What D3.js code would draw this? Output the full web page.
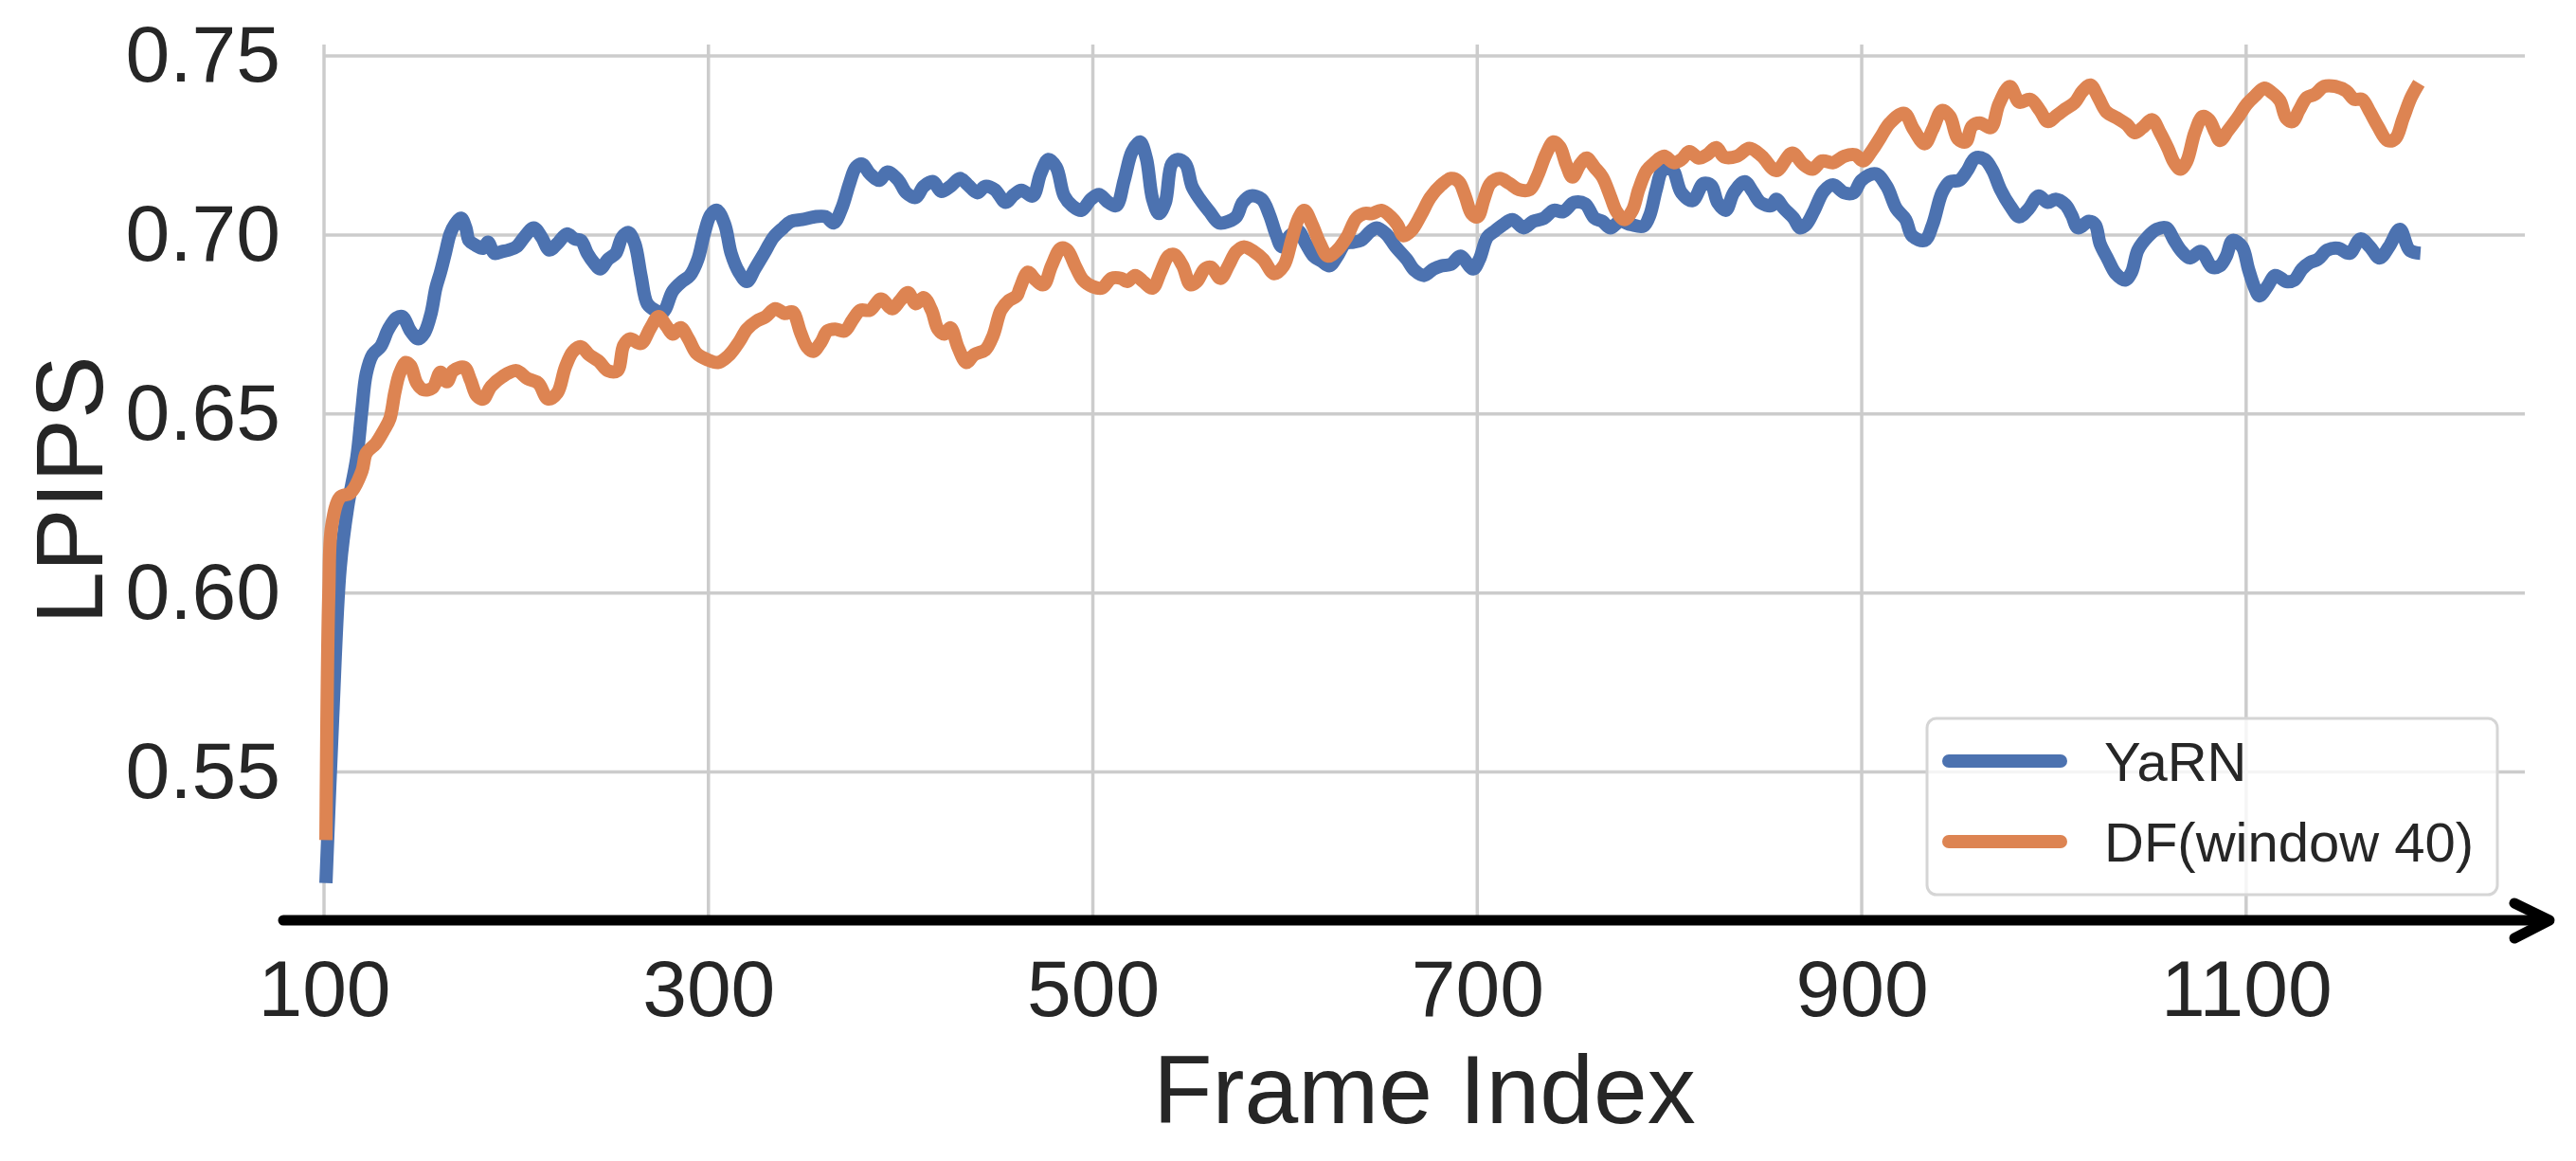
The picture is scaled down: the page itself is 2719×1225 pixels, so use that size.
<!DOCTYPE html>
<html>
<head>
<meta charset="utf-8">
<script src="https://cdn.jsdelivr.net/npm/d3@7"></script>
<style>
  html, body { margin: 0; padding: 0; background: #ffffff; }
  svg { display: block; }
  text { font-family: "Liberation Sans", Arial, "DejaVu Sans", sans-serif; fill: #262626; }
</style>
</head>
<body>
<svg id="chart" width="2719" height="1225"></svg>
<script>
// ---------------- data ----------------
const seriesNames = ["YaRN", "DF(window 40)"];
const seriesColors = ["#4C72B0", "#DD8452"];
const xTicks = [100, 300, 500, 700, 900, 1100];
const yTicks = [0.55, 0.60, 0.65, 0.70, 0.75];
const xLabel = "Frame Index";
const yLabel = "LPIPS";

const yarnFrames = [101,104.5,108.4,112.3,117.1,119.6,122,125.3,129.4,133.5,137.6,140.9,145,149.1,152.4,155.7,158.2,160.6,163.1,165.6,168,171.3,173.8,175.4,178.7,182.8,185.3,188.6,192.7,196,200.1,204.2,209.1,213.2,217.3,221.4,226.3,230.4,233.7,237,240.3,243.6,247.7,251.8,255.1,258.4,261.7,264.9,268.2,272.3,276.4,281.4,286.3,290.4,294.5,297.8,301.1,304.4,308.5,311.8,315.9,320,324.1,329,333.9,338.9,343,348.7,355.3,361,365.2,369.3,373.4,376.7,380,384,389,393.1,398.8,402.9,407.9,412,416.9,421,425.9,430.9,435,439.9,444,448.9,454.7,458.8,462.9,468.7,472.8,476.9,481,485.1,489.2,494.1,499,503.2,508.1,512.2,516.3,520.4,524.5,527.8,531.1,534.4,537.7,541,544.2,548.3,551.6,555.7,560.7,565.6,570.5,574.6,578,582,587.8,591.9,595.2,598.4,602.5,606.7,610.8,614.9,619,623.1,627.2,631.3,635.4,639.5,644.4,647.7,652.6,657.5,663.3,667.4,672.3,677.2,681.4,686.3,691.2,697.8,701.1,705.2,709.3,713.4,718.3,724.1,729,734.7,739.7,744.6,750.4,756.1,761,765.1,769.2,774.2,779.9,786.5,789.8,793.1,796.4,801.3,806.2,812,817.7,821.8,825.1,829.3,833.4,839.1,843.2,847.3,853.1,855.5,859.6,864.6,867.9,871.1,875.3,880.2,885.1,890.9,895.8,899.9,907.3,913,918,922.9,926.2,932.8,936.9,941.8,945.9,950.8,954.9,959,964,968.1,972.2,977.1,982,987,991.9,996.8,1000.9,1005.9,1009.2,1012.5,1018.2,1021.5,1024,1028.1,1032.2,1037.1,1040.4,1043.7,1048.6,1053.5,1058.5,1062.6,1065.9,1070.8,1076.5,1082.3,1086.4,1089.7,1093,1097.9,1101.2,1104.5,1106.9,1111,1115.2,1120.9,1125,1129.1,1133.2,1137.3,1142.3,1148,1153.8,1159.5,1164.4,1169.4,1174.3,1180,1185,1190.7];
const yarnValues = [0.519,0.565,0.607,0.624,0.638,0.6506,0.6613,0.6666,0.6688,0.6737,0.6768,0.6772,0.6732,0.6710,0.6728,0.6781,0.6852,0.6896,0.6949,0.7003,0.7029,0.7047,0.7020,0.6985,0.6972,0.6963,0.6980,0.6949,0.6954,0.6958,0.6967,0.6994,0.7020,0.6994,0.6958,0.6976,0.7003,0.6989,0.6985,0.6949,0.6923,0.6905,0.6932,0.6949,0.6994,0.7007,0.6976,0.6887,0.6808,0.6790,0.6785,0.6843,0.6870,0.6887,0.6932,0.7003,0.7056,0.7069,0.7029,0.6949,0.6896,0.6870,0.6905,0.6949,0.6994,0.7020,0.7038,0.7043,0.7051,0.7051,0.7034,0.7074,0.7144,0.7189,0.7198,0.7171,0.7153,0.7176,0.7153,0.7118,0.7105,0.7136,0.7149,0.7122,0.7136,0.7158,0.7140,0.7118,0.7136,0.7127,0.7091,0.7112,0.7125,0.7109,0.7171,0.7211,0.7189,0.7109,0.7082,0.7069,0.7100,0.7113,0.7091,0.7082,0.7153,0.7233,0.7260,0.7215,0.7100,0.7060,0.7091,0.7198,0.7211,0.7198,0.7136,0.7100,0.7065,0.7034,0.7038,0.7051,0.7091,0.7109,0.7100,0.7056,0.7003,0.6967,0.6998,0.7012,0.6976,0.6941,0.6927,0.6914,0.6941,0.6976,0.6980,0.6985,0.7010,0.7020,0.7003,0.6967,0.6932,0.6901,0.6887,0.6905,0.6914,0.6918,0.6941,0.6905,0.6932,0.6994,0.7012,0.7029,0.7043,0.7020,0.7038,0.7047,0.7069,0.7065,0.7091,0.7087,0.7047,0.7038,0.7020,0.7038,0.7029,0.7025,0.7056,0.7127,0.7180,0.7184,0.7118,0.7096,0.7144,0.7138,0.7090,0.7069,0.7118,0.7149,0.7122,0.7091,0.7082,0.7100,0.7074,0.7047,0.7020,0.7029,0.7069,0.7122,0.7140,0.7118,0.7118,0.7153,0.7171,0.7136,0.7074,0.7043,0.6998,0.6985,0.7029,0.7118,0.7149,0.7153,0.7180,0.7215,0.7211,0.7180,0.7127,0.7082,0.7051,0.7074,0.7109,0.7091,0.7100,0.7085,0.7056,0.7020,0.7038,0.7029,0.6976,0.6932,0.6892,0.6874,0.6896,0.6958,0.6994,0.7016,0.7020,0.6985,0.6958,0.6936,0.6954,0.6910,0.6914,0.6941,0.6985,0.6967,0.6905,0.6852,0.6830,0.6856,0.6887,0.6870,0.6874,0.6905,0.6923,0.6932,0.6958,0.6963,0.6949,0.6989,0.6967,0.6936,0.6967,0.7016,0.6958,0.6949];

const dfFrames = [101,102.5,104,108.4,113.8,119.7,122,127,131,134.3,136.8,139.3,142.6,145,148.3,151.6,156.5,160.6,163.9,167.2,173,176.2,179.5,182.8,186.9,192.7,200.1,205.8,211.5,216.5,221.4,225.5,229.6,233.7,237.8,242.8,247.7,252.6,255.9,259.2,264.9,269.9,274,278.1,281.4,285.5,289.6,293.7,299.4,305.2,311,315.9,320,324.9,329.8,334.8,339.7,343.8,347.9,351.2,354.5,358.6,361.9,366,370.9,375,379.1,384,389.8,395.6,399.7,403.8,407.9,412,416.1,419.4,422.7,425.9,430,434.2,438.3,444,448.1,452.2,456.3,460.4,462.1,466.2,470.3,474.4,478.5,483.4,486.7,490.8,494.9,499.9,504.8,509.7,514.7,517.9,522,526.2,531.1,535.2,539.3,542.6,546.7,550.8,554.1,558.2,561.5,566.4,570.5,574.6,578.7,583.7,588.6,594.3,599.3,603.4,606.7,610,614.1,618.2,622.3,627.2,632.1,637.1,641.2,645.2,650.1,655,658.4,661.6,665.7,670.7,675.6,681.3,686.3,690.4,693.7,697,700.2,703.5,706.8,711.7,716.7,721.6,727.4,731.5,735.6,739.7,743,746.2,749.5,753.6,756.9,761,765.1,769.2,772.5,776.6,780.7,784,788.1,792.2,797.2,802.1,806.2,810.3,815.2,819.4,824.3,828.4,835,841.6,848.1,855.5,863.8,869.5,874.4,879.4,885.1,890.9,896.6,900.7,905.6,909.8,914.7,922.1,927,932.8,936.9,941.8,945.9,950,954.1,957.4,961.5,967.2,971.4,977.1,982,987.8,992.7,996.8,1001.7,1005.9,1010.8,1014.9,1019,1023.1,1027.3,1033,1037.9,1042,1046.1,1051.1,1055.2,1059.3,1062.6,1065.9,1069.2,1073.3,1077.4,1080.7,1084,1086.4,1090.5,1095.4,1100.4,1104.5,1109.4,1113.5,1117.6,1120.9,1124.2,1127.5,1131.6,1135.7,1140.6,1146.4,1152.1,1156.2,1160.3,1164.4,1168.5,1173.5,1177.6,1181.7,1185.8,1189.9];
const dfValues = [0.531,0.600,0.6187,0.6268,0.628,0.634,0.6391,0.6418,0.6453,0.6488,0.6559,0.6613,0.6644,0.6635,0.6586,0.6568,0.6573,0.6617,0.6590,0.6621,0.6630,0.6595,0.6551,0.6542,0.6577,0.6604,0.6621,0.6599,0.6586,0.6542,0.6559,0.6630,0.6675,0.6688,0.6666,0.6648,0.6621,0.6621,0.6692,0.6710,0.6697,0.6741,0.6772,0.6746,0.6723,0.6741,0.6710,0.6670,0.6652,0.6644,0.6666,0.6701,0.6737,0.6759,0.6772,0.6794,0.6781,0.6785,0.6728,0.6688,0.6675,0.6701,0.6732,0.6737,0.6732,0.6763,0.6790,0.6790,0.6821,0.6794,0.6817,0.6839,0.6808,0.6825,0.6790,0.6737,0.6723,0.6741,0.6684,0.6644,0.6666,0.6679,0.6719,0.6790,0.6817,0.6830,0.6852,0.6896,0.6874,0.6861,0.6914,0.6963,0.6958,0.6914,0.6874,0.6856,0.6852,0.6879,0.6879,0.6870,0.6887,0.6870,0.6852,0.6896,0.6941,0.6945,0.6914,0.6861,0.6870,0.6905,0.6910,0.6879,0.6914,0.6954,0.6967,0.6954,0.6932,0.6892,0.6914,0.6985,0.7043,0.7069,0.7029,0.6976,0.6941,0.6958,0.6994,0.7047,0.7060,0.7060,0.7069,0.7051,0.7029,0.6998,0.7012,0.7056,0.7105,0.7140,0.7158,0.7149,0.7109,0.7060,0.7051,0.7100,0.7144,0.7158,0.7144,0.7127,0.7127,0.7167,0.7224,0.7260,0.7246,0.7198,0.7162,0.7198,0.7215,0.7189,0.7162,0.7109,0.7065,0.7043,0.7069,0.7127,0.7180,0.7202,0.7220,0.7202,0.7211,0.7233,0.7215,0.7224,0.7244,0.7218,0.7220,0.7242,0.7220,0.7180,0.7229,0.7198,0.7184,0.7207,0.7202,0.7220,0.7224,0.7207,0.7238,0.7273,0.7313,0.7340,0.7295,0.7255,0.7295,0.7348,0.7331,0.7269,0.7260,0.7304,0.7313,0.7300,0.7366,0.7415,0.7371,0.7379,0.7348,0.7317,0.7335,0.7352,0.7370,0.7402,0.7419,0.7384,0.7344,0.7326,0.7309,0.7286,0.7300,0.7322,0.7286,0.7242,0.7202,0.7184,0.7207,0.7286,0.7331,0.7322,0.7286,0.7264,0.7291,0.7326,0.7366,0.7388,0.7410,0.7397,0.7375,0.7326,0.7317,0.7348,0.7384,0.7393,0.7415,0.7415,0.7402,0.7379,0.7379,0.7344,0.7304,0.7264,0.7269,0.7326,0.7384,0.7424];

// ---------------- layout ----------------
const svg = d3.select("#chart");
const plot = { left: 342, right: 2665, top: 47, bottom: 971 };

const x = d3.scaleLinear().domain([100, 1245]).range([plot.left, plot.right]);
const y = d3.scaleLinear().domain([0.5086, 0.7532]).range([plot.bottom, plot.top]);

const gridColor = "#cccccc";
const grid = svg.append("g");
grid.selectAll("line.h").data(yTicks).join("line")
  .attr("x1", plot.left).attr("x2", plot.right)
  .attr("y1", d => y(d)).attr("y2", d => y(d))
  .attr("stroke", gridColor).attr("stroke-width", 3.5);
grid.selectAll("line.v").data(xTicks).join("line")
  .attr("x1", d => x(d)).attr("x2", d => x(d))
  .attr("y1", plot.top).attr("y2", plot.bottom)
  .attr("stroke", gridColor).attr("stroke-width", 3.5);

// axes (labels only)
const yAxis = d3.axisLeft(y).tickValues(yTicks).tickFormat(d3.format(".2f")).tickSize(0).tickPadding(46);
const gy = svg.append("g").attr("transform", `translate(${plot.left},0)`).call(yAxis);
gy.select(".domain").remove();
gy.selectAll("text").attr("font-size", 84).attr("fill", "#262626")
  .style("font-family", '"Liberation Sans", Arial, sans-serif');

const xAxis = d3.axisBottom(x).tickValues(xTicks).tickFormat(d3.format("d")).tickSize(0).tickPadding(41);
const gx = svg.append("g").attr("transform", `translate(0,${plot.bottom})`).call(xAxis);
gx.select(".domain").remove();
gx.selectAll("text").attr("font-size", 84).attr("fill", "#262626")
  .style("font-family", '"Liberation Sans", Arial, sans-serif');

// lines
const line = d3.line().x(d => x(d[0])).y(d => y(d[1])).curve(d3.curveCatmullRom.alpha(0.5));
const series = [
  d3.zip(yarnFrames, yarnValues),
  d3.zip(dfFrames, dfValues)
];
svg.append("g").selectAll("path").data(series).join("path")
  .attr("d", line)
  .attr("fill", "none")
  .attr("stroke", (d, i) => seriesColors[i])
  .attr("stroke-width", 14)
  .attr("stroke-linejoin", "round")
  .attr("stroke-linecap", "butt");

// black x-axis arrow
const arrow = svg.append("g");
arrow.append("line")
  .attr("x1", 299).attr("x2", 2688)
  .attr("y1", plot.bottom).attr("y2", plot.bottom)
  .attr("stroke", "#000").attr("stroke-width", 11).attr("stroke-linecap", "round");
arrow.append("path")
  .attr("d", `M2654,${plot.bottom - 18} L2691,${plot.bottom} L2654,${plot.bottom + 19}`)
  .attr("fill", "none").attr("stroke", "#000").attr("stroke-width", 11)
  .attr("stroke-linecap", "round").attr("stroke-linejoin", "round");

// axis titles
svg.append("text")
  .attr("x", (plot.left + plot.right) / 2).attr("y", 1185)
  .attr("text-anchor", "middle").attr("font-size", 102)
  .text(xLabel);
svg.append("text")
  .attr("transform", "translate(108,517) rotate(-90)")
  .attr("text-anchor", "middle").attr("font-size", 100)
  .text(yLabel);

// legend
const lg = svg.append("g");
lg.append("rect")
  .attr("x", 2034).attr("y", 758).attr("width", 602).attr("height", 186)
  .attr("rx", 10).attr("ry", 10)
  .attr("fill", "#ffffff").attr("fill-opacity", 0.8)
  .attr("stroke", "#d5d5d5").attr("stroke-width", 3);
const legRows = [803, 888];
seriesNames.forEach((name, i) => {
  lg.append("line")
    .attr("x1", 2057).attr("x2", 2175)
    .attr("y1", legRows[i]).attr("y2", legRows[i])
    .attr("stroke", seriesColors[i]).attr("stroke-width", 14).attr("stroke-linecap", "round");
  lg.append("text")
    .attr("x", 2221).attr("y", legRows[i] + 21)
    .attr("font-size", 58)
    .text(name);
});
</script>
</body>
</html>
